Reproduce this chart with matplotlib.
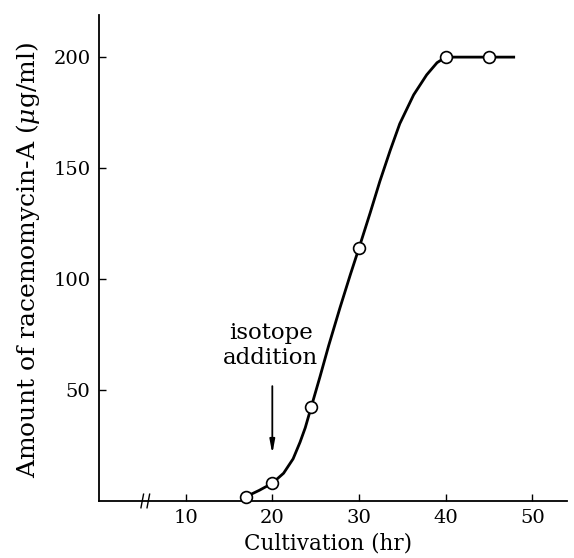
# racemomycin-A production vs cultivation time

import numpy as np
import matplotlib
matplotlib.use('Agg')
import matplotlib.pyplot as plt
import matplotlib.transforms as mtransforms

plt.rcParams['font.family'] = ['DejaVu Serif']
plt.rcParams['mathtext.fontset'] = 'dejavuserif'

# measured points (open circles)
hours = [17, 20, 24.5, 30, 40, 45]
amount = [2, 8, 42.5, 114, 200, 200]

# hand-drawn curve
curve_hours = [17, 18.5, 20, 21.3, 22.4, 23.2, 23.8, 24.5, 25.5, 26.5, 27.8, 29, 30,
               31.3, 32.4, 33.6, 34.7, 36.3, 37.8, 39, 40, 45, 48]
curve_amount = [2, 4.8, 8, 12.5, 19, 26.5, 33, 42.5, 56, 70, 87, 102, 114,
                130, 144, 158, 170, 183, 192, 197.5, 200, 200, 200]

x_ticks = [10, 20, 30, 40, 50]
y_ticks = [50, 100, 150, 200]

fig = plt.figure(figsize=(5.74, 5.58), dpi=100)
ax = fig.add_axes([0.1723, 0.1022, 0.8157, 0.871])

ax.plot(curve_hours, curve_amount, color='black', lw=2.0,
        solid_joinstyle='round', solid_capstyle='butt', zorder=2)
ax.plot(hours, amount, 'o', ms=8.5, mfc='white', mec='black', mew=1.2,
        zorder=3, clip_on=False)

ax.set_xlim(0, 54)
ax.set_ylim(0, 219)
ax.set_xticks(x_ticks)
ax.set_yticks(y_ticks)
ax.tick_params(direction='in', length=5, width=1, labelsize=14, pad=6)

for s in ['top', 'right']:
    ax.spines[s].set_visible(False)
for s in ['left', 'bottom']:
    ax.spines[s].set_linewidth(1.3)

# axis break mark
trans = mtransforms.blended_transform_factory(ax.transData, ax.transAxes)
for bx in [5.0, 5.7]:
    ax.plot([bx - 0.15, bx + 0.15], [-0.014, 0.014], color='black', lw=1,
            transform=trans, clip_on=False)

ax.set_xlabel('Cultivation (hr)', fontsize=15.5)
ax.xaxis.set_label_coords(0.49, -0.064)
ax.set_ylabel(r'Amount of racemomycin-A ($\mu$g/ml)', fontsize=18)
ax.yaxis.set_label_coords(-0.122, 0.496)

ax.annotate('', xy=(20, 20), xytext=(20, 53),
            arrowprops=dict(arrowstyle='-|>,head_length=0.8,head_width=0.15',
                            color='black', lw=1.3))
ax.text(19.8, 70, 'isotope\naddition', ha='center', va='center',
        fontsize=16.5, linespacing=1.15)

fig.savefig('out.png', dpi=100)
